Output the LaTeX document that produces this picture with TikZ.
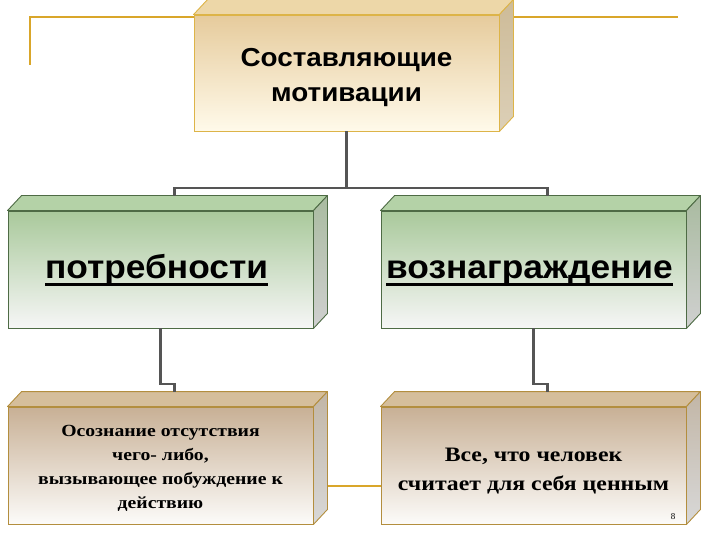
\documentclass[tikz,border=0pt]{standalone}
\usepackage{fontspec}
\setmainfont{Liberation Serif}
\newfontfamily\sansbold{Liberation Sans}[FakeStretch=1.07]
\newfontfamily\serifwide{Liberation Serif}[FakeStretch=1.16]
\usetikzlibrary{calc}
\definecolor{gold}{HTML}{D9A62A}
\definecolor{connc}{HTML}{555555}
\definecolor{tanTop}{HTML}{E6CB9C}
\definecolor{tanBot}{HTML}{FFFAEA}
\definecolor{tanFace}{HTML}{EDD7A8}
\definecolor{tanSide}{HTML}{CDBB98}
\definecolor{tanLine}{HTML}{DDB448}
\definecolor{grTop}{HTML}{A9C99B}
\definecolor{grBot}{HTML}{F6F6F6}
\definecolor{grFace}{HTML}{B4D2A7}
\definecolor{grSideT}{HTML}{A9BBA0}
\definecolor{grSideB}{HTML}{D0D0D0}
\definecolor{grLine}{HTML}{4E6B45}
\definecolor{brTop}{HTML}{C8B095}
\definecolor{brBot}{HTML}{FCFBF9}
\definecolor{brFace}{HTML}{D5BE9B}
\definecolor{brSideT}{HTML}{C2B6A6}
\definecolor{brSideB}{HTML}{D8D8D8}
\definecolor{brLine}{HTML}{B38E3E}
\newcommand\myul[1]{\setbox0\hbox{#1}\leavevmode\rlap{\rule[-7pt]{\wd0}{3pt}}\box0}
\newcommand\drawfaces[5]{%
  \draw[#5, fill=#2, line join=round] (#1.north west) -- ++(14,-15) -- ($(#1.north east)+(14,-15)$) -- (#1.north east) -- cycle;
  \draw[#5, top color=#3, bottom color=#4, line join=round] (#1.north east) -- ++(14,-15) -- ($(#1.south east)+(14,-15)$) -- (#1.south east) -- cycle;
}
\begin{document}
\begin{tikzpicture}[x=1pt,y=-1pt,
  frontbox/.style={draw, minimum width=305pt, minimum height=117pt, inner sep=0pt, line width=0.9pt},
  tanbox/.style={frontbox, draw=tanLine, top color=tanTop, bottom color=tanBot},
  greenbox/.style={frontbox, draw=grLine, top color=grTop, bottom color=grBot},
  brownbox/.style={frontbox, draw=brLine, top color=brTop, bottom color=brBot},
  boxtext/.style={inner sep=0pt, align=center},
  conn/.style={draw=connc, line width=2.2pt},
  goldline/.style={draw=gold, line width=2pt}]
\useasboundingbox (0,0) rectangle (720,540);
% decorative golden lines
\coordinate (gl0) at (30,65);
\coordinate (gl1) at (30,17);
\coordinate (gl2) at (678,17);
\draw[goldline] (gl0) -- (gl1) -- (gl2);
\coordinate (bl1) at (313,486);
\coordinate (bl2) at (381,486);
\draw[goldline] (bl1) -- (bl2);
% top box
\node[tanbox, minimum height=116pt] (top) at (346.5,73) {};
\drawfaces{top}{tanFace}{tanSide}{tanSide!70!white}{draw=tanLine, line width=0.9pt}
\node[boxtext, font=\sansbold\bfseries\fontsize{26}{35}\selectfont] (topt) at ($(top.center)+(0,4.5)$) {Составляющие\\мотивации};
% middle boxes
\node[greenbox] (need) at (160.5,269.5) {};
\drawfaces{need}{grFace}{grSideT}{grSideB}{draw=grLine, line width=0.9pt}
\node[boxtext, text height=25pt, text depth=7pt, font=\sansbold\bfseries\fontsize{33}{40}\selectfont] (needt) at ($(need.center)+(-4,0)$) {\myul{потребности}};
\node[greenbox] (rew) at (533.5,269.5) {};
\drawfaces{rew}{grFace}{grSideT}{grSideB}{draw=grLine, line width=0.9pt}
\node[boxtext, text height=25pt, text depth=7pt, font=\sansbold\bfseries\fontsize{33}{40}\selectfont] (rewt) at ($(rew.center)+(-4,0)$) {\myul{вознаграждение}};
% bottom boxes
\node[brownbox] (needd) at (160.5,465.5) {};
\drawfaces{needd}{brFace}{brSideT}{brSideB}{draw=brLine, line width=0.9pt}
\node[boxtext, font=\serifwide\bfseries\fontsize{17}{24}\selectfont] (needdt) at ($(needd.center)+(0,3)$) {Осознание отсутствия\\чего- либо,\\вызывающее побуждение к\\действию};
\node[brownbox] (rewd) at (533.5,465.5) {};
\drawfaces{rewd}{brFace}{brSideT}{brSideB}{draw=brLine, line width=0.9pt}
\node[boxtext, font=\serifwide\bfseries\fontsize{20.5}{29}\selectfont] (rewdt) at ($(rewd.center)+(0,6)$) {Все, что человек\\считает для себя ценным};
\node[font=\fontsize{9}{10}\selectfont, inner sep=0pt] (pg) at (673,517) {8};
% connectors
\coordinate (needb) at ($(need.north)+(14,-15)$);
\coordinate (rewb) at ($(rew.north)+(14,-15)$);
\coordinate (neeedb) at ($(needd.north)+(14,-15)$);
\coordinate (rewdb) at ($(rewd.north)+(14,-15)$);
\coordinate (bus) at (0,188);
\coordinate (jog) at (0,384);
\draw[conn] (top.south) -- (top.south |- bus);
\draw[conn] (needb) -- (needb |- bus) -- (rewb |- bus) -- (rewb);
\draw[conn] (need.south) -- (need.south |- jog) -| (neeedb);
\draw[conn] (rew.south) -- (rew.south |- jog) -| (rewdb);
\end{tikzpicture}
\end{document}
